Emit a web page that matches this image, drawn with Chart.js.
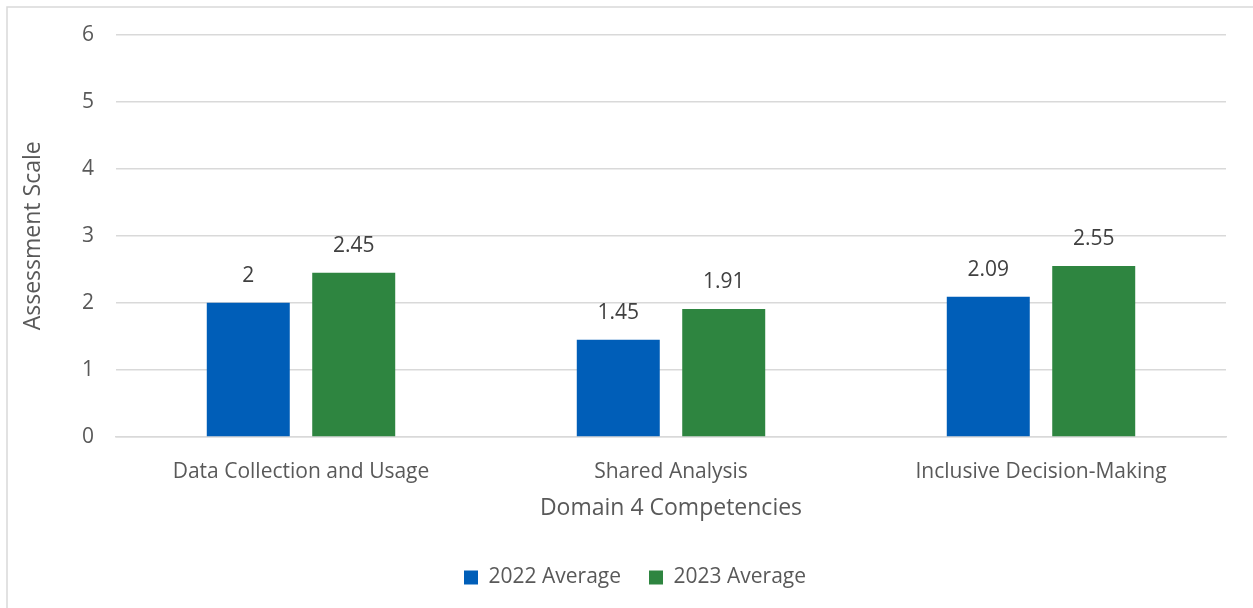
<!DOCTYPE html>
<html>
<head>
<meta charset="utf-8">
<script src="https://cdn.jsdelivr.net/npm/chart.js@4"></script>
<style>
  html, body { margin: 0; padding: 0; background: #fff; }
  #wrap { width: 1253px; height: 608px; position: relative; }
</style>
</head>
<body>
<div id="wrap"><canvas id="chart"></canvas></div>
<script>
let categories = ["Data Collection and Usage", "Shared Analysis", "Inclusive Decision-Making"];
let avg2022 = [2, 1.45, 2.09];
let avg2023 = [2.45, 1.91, 2.55];
let seriesNames = ["2022 Average", "2023 Average"];
let yTicks = [0, 1, 2, 3, 4, 5, 6];

let font = "'Open Sans', 'Noto Sans', sans-serif";

// outer frame like the office chart border
let framePlugin = {
    id: "frame",
    beforeDraw(chart) {
        let ctx = chart.ctx;
        ctx.save();
        ctx.fillStyle = "#fff";
        ctx.fillRect(0, 0, chart.width, chart.height);
        ctx.strokeStyle = "#d9d9d9";
        ctx.lineWidth = 1.5;
        ctx.strokeRect(7, 7, chart.width + 20, chart.height + 20);
        ctx.restore();
    },
    // legend sits a bit right of the plot centre in the original
    afterLayout(chart) {
        chart.legend.left += 22;
        chart.legend.right += 22;
    }
};

// value labels above bars
let labelPlugin = {
    id: "valueLabels",
    afterDatasetsDraw(chart) {
        let ctx = chart.ctx;
        ctx.save();
        ctx.font = "21px " + font;
        ctx.fillStyle = "#404040";
        ctx.textAlign = "center";
        ctx.textBaseline = "middle";
        chart.data.datasets.forEach((ds, i) => {
            chart.getDatasetMeta(i).data.forEach((bar, j) => {
                ctx.fillText(String(ds.data[j]), bar.x, bar.y - 27);
            });
        });
        ctx.restore();
    }
};

let chartData = {
    labels: categories,
    datasets: [{
        label: seriesNames[0],
        data: avg2022,
        backgroundColor: "#005EB8",
        categoryPercentage: 0.57,
        barPercentage: 0.787
    }, {
        label: seriesNames[1],
        data: avg2023,
        backgroundColor: "#2E8540",
        categoryPercentage: 0.57,
        barPercentage: 0.787
    }]
};

let chartOptions = {
    responsive: true,
    maintainAspectRatio: false,
    animation: false,
    layout: {
        padding: { top: 31, right: 27, left: 0, bottom: 10 }
    },
    plugins: {
        legend: {
            position: "bottom",
            labels: {
                boxWidth: 14,
                boxHeight: 14,
                padding: 28,
                color: "#595959",
                font: { family: font, size: 21 }
            }
        },
        tooltip: { enabled: false }
    },
    scales: {
        x: {
            afterFit(scale) {
                scale.height = 102;
            },
            grid: { display: false },
            border: { color: "#d9d9d9", width: 1.5 },
            ticks: {
                color: "#595959",
                padding: 14,
                font: { family: font, size: 21 }
            },
            title: {
                display: true,
                text: "Domain 4 Competencies",
                color: "#595959",
                padding: { top: 0, bottom: 17 },
                font: { family: font, size: 23 }
            }
        },
        y: {
            min: 0,
            max: 6,
            afterBuildTicks(scale) {
                scale.ticks = yTicks.map(v => ({ value: v }));
            },
            afterFit(scale) {
                scale.width = 116;
            },
            grid: { color: "#d9d9d9", lineWidth: 1.5, drawTicks: false },
            border: { display: false },
            ticks: {
                color: "#595959",
                padding: 22,
                font: { family: font, size: 21 }
            },
            title: {
                display: true,
                text: "Assessment Scale",
                color: "#595959",
                padding: { top: 20, bottom: 0 },
                font: { family: font, size: 23 }
            }
        }
    }
};

let chart = new Chart(document.getElementById("chart"), {
    type: "bar",
    data: chartData,
    options: chartOptions,
    plugins: [framePlugin, labelPlugin]
});
</script>
</body>
</html>
